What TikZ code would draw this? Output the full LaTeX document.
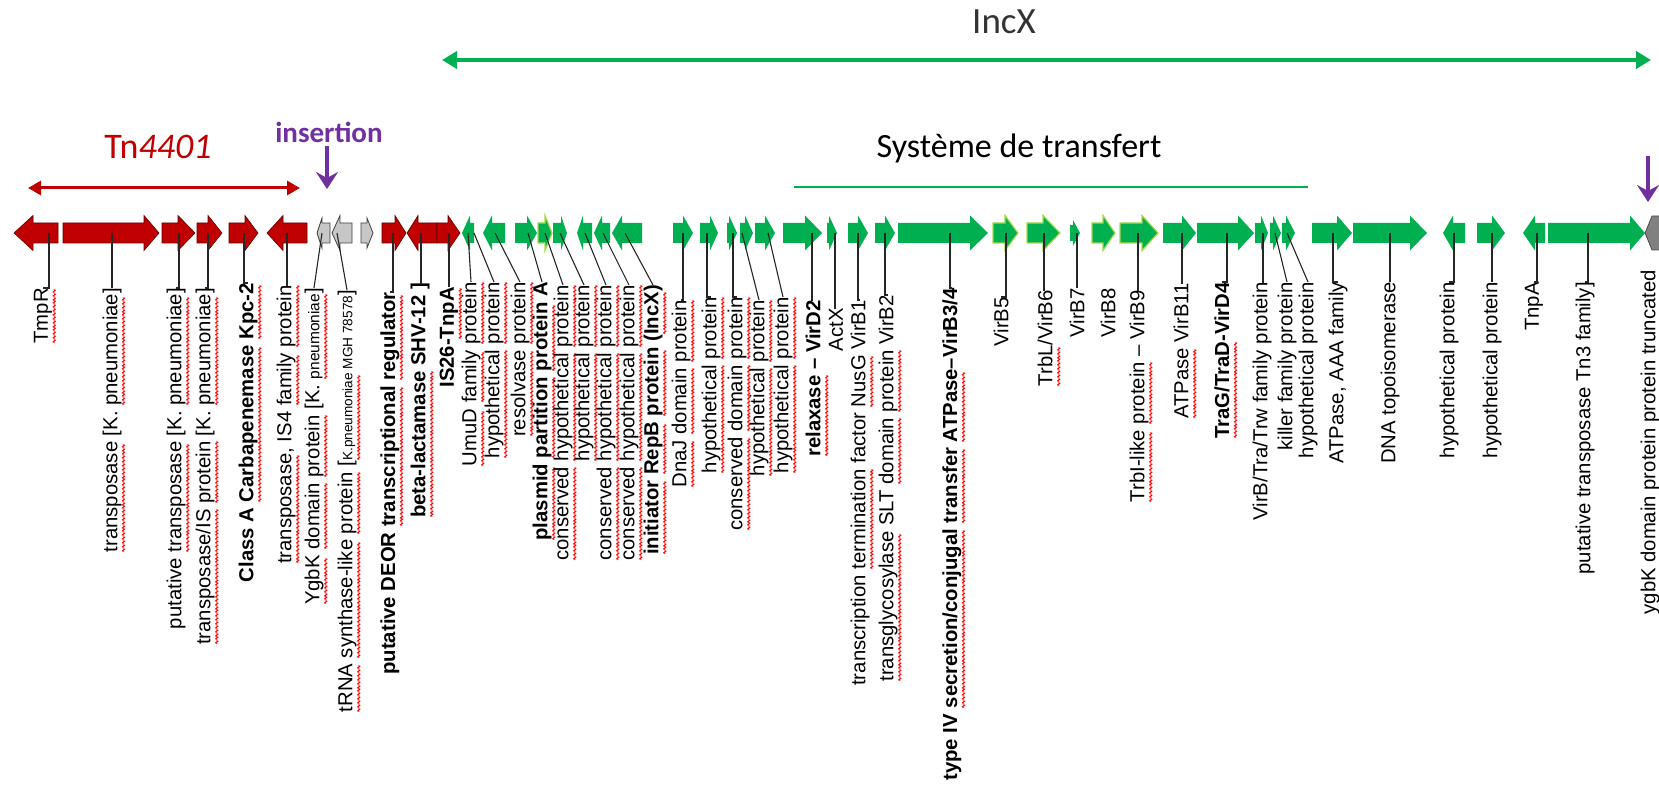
\documentclass[tikz,border=0pt]{standalone}
\usepackage{fontspec}
\usepackage{graphicx}
\setmainfont{Liberation Sans}
\newfontfamily\carl{Carlito}
\usetikzlibrary{arrows.meta}
\definecolor{gred}{HTML}{C00000}
\definecolor{dred}{HTML}{600000}
\definecolor{ggreen}{HTML}{00B050}
\definecolor{lgreen}{HTML}{A6D84A}
\definecolor{ppurple}{HTML}{7030A0}
\newsavebox\sqbox
\newcommand\wavepiece{\hbox{\scalebox{0.3}[1.3]{\fontsize{22}{22}\selectfont\mdseries\textasciitilde}}}
\newcommand\sq[1]{\sbox\sqbox{#1}\rlap{\usebox\sqbox}\rlap{\raisebox{-16pt}[0pt][0pt]{\textcolor{red}{\leaders\wavepiece\hskip\wd\sqbox\relax}}}\kern\wd\sqbox\relax}
\newcommand\lf{\fontsize{20.3}{22}\selectfont}
\newcommand\smf{\fontsize{15.5}{16}\selectfont}
\newcommand\tnf{\fontsize{13.6}{14}\selectfont}
\newcommand\gene[6]{\path[#1] (#2,{233-#5}) -- (#3,{233-#5}) -- (#3,{233-#6}) -- (#4,233) -- (#3,{233+#6}) -- (#3,{233+#5}) -- (#2,{233+#5}) -- cycle;}
\newcommand\gn[4]{\gene{#1}{#2}{#3}{#4}{10}{17.5}}
% label: #1 name, #2 gene x, #3 label x, #4 label top y, #5 path op, #6 text
\newcommand\lab[6]{\coordinate (g#1) at (#2,233);
  \node[lbl] (l#1) at (#3,#4) {#6};
  \draw[lead] (g#1) #5 (l#1.east);}
\tikzset{
  red/.style={fill=gred, draw=dred, line width=0.6pt},
  green/.style={fill=ggreen},
  greenY/.style={fill=ggreen, draw=lgreen, line width=1.2pt},
  gray/.style={fill=black!22, draw=black!75, line width=0.8pt},
  dgray/.style={fill=black!50, draw=black!70, line width=0.8pt},
  lbl/.style={rotate=90, anchor=east, inner sep=0pt, font=\lf},
  lead/.style={line width=1.1pt, draw=black!85},
}
\begin{document}
\begin{tikzpicture}[x=1pt, y=-1pt]
\useasboundingbox (0,0) rectangle (1659,786);
% ---------- headings ----------
\node[font=\carl\fontsize{37}{40}\selectfont, text=black!80] (incx) at (1004,22) {IncX};
\coordinate (ix1) at (442,60);
\coordinate (ix2) at (1651,60);
\draw[ggreen, line width=4pt, {Triangle[length=15pt,width=17pt]}-{Triangle[length=15pt,width=17pt]}] (ix1) -- (ix2);
\node[font=\carl\fontsize{36}{38}\selectfont, text=gred] (tn) at (158,147) {Tn\textit{4401}};
\coordinate (tn1) at (28,188);
\coordinate (tn2) at (300,188);
\draw[gred, line width=3pt, {Triangle[length=13pt,width=14pt]}-{Triangle[length=13pt,width=14pt]}] (tn1) -- (tn2);
\node[font=\carl\bfseries\fontsize{29}{31}\selectfont, text=ppurple] (ins) at (329,132) {insertion};
\coordinate (ia1) at (327,146);
\coordinate (ia2) at (327,189);
\draw[ppurple, line width=4pt, -{Stealth[length=17pt,width=22pt,inset=6pt]}] (ia1) -- (ia2);
\coordinate (ib1) at (1648,156);
\coordinate (ib2) at (1648,202);
\draw[ppurple, line width=4pt, -{Stealth[length=17pt,width=22pt,inset=6pt]}] (ib1) -- (ib2);
\node[font=\carl\fontsize{34}{36}\selectfont] (sys) at (1019,148) {Système de transfert};
\coordinate (st1) at (794,187);
\coordinate (st2) at (1308,187);
\draw[ggreen, line width=1.5pt] (st1) -- (st2);
% ---------- genes ----------
\gn{red}{58}{33}{14}
\gn{red}{63}{144}{159}
\gn{red}{162}{178}{195}
\gn{red}{197}{208}{222}
\gn{red}{229}{245}{258}
\gn{red}{307}{283}{267}
\gene{gray}{330}{322}{317}{10}{15}
\gn{gray}{352}{340}{332}
\gene{gray}{361}{367}{373}{10}{15}
\gn{red}{382}{395}{406}
\gn{red}{437}{418}{407}
\gn{red}{437}{448}{460}
\gn{green}{474}{470}{462}
\gn{green}{505}{492}{483}
\gn{green}{515}{527}{537}
\gn{greenY}{538}{545}{552}
\gn{green}{553}{561}{567}
\gn{green}{592}{583}{577}
\gn{green}{610}{602}{594}
\gn{green}{642}{622}{612}
\gn{green}{673}{683}{693}
\gn{green}{700}{710}{718}
\gn{green}{727}{729}{737}
\gn{green}{740}{745}{753}
\gn{green}{755}{765}{775}
\gn{green}{783}{805}{822}
\gn{green}{827}{829}{837}
\gn{green}{848}{858}{868}
\gn{green}{875}{885}{895}
\gn{green}{898}{970}{988}
\gn{greenY}{993}{1005}{1018}
\gn{greenY}{1027}{1043}{1060}
\gene{green}{1070}{1073}{1080}{8}{13}
\gn{greenY}{1092}{1103}{1115}
\gn{greenY}{1120}{1142}{1158}
\gn{green}{1163}{1182}{1196}
\gn{green}{1197}{1238}{1254}
\gn{green}{1255}{1261}{1268}
\gn{green}{1270}{1273}{1281}
\gn{green}{1282}{1286}{1295}
\gn{green}{1312}{1337}{1352}
\gn{green}{1353}{1410}{1427}
\gn{green}{1465}{1453}{1443}
\gn{green}{1477}{1492}{1505}
\gn{green}{1545}{1535}{1523}
\gn{green}{1548}{1630}{1645}
\path[dgray] (1645,233) -- (1652,216) -- (1670,216) -- (1677,233) -- (1670,250) -- (1652,250) -- cycle;
% ---------- labels ----------
\lab{1}{49}{43}{288}{|-}{\sq{TmpR}}
\lab{2}{112}{112}{288}{|-}{\sq{transposase} [K. \sq{pneumoniae}]}
\lab{3}{179}{176}{288}{|-}{putative \sq{transposase} [K. \sq{pneumoniae}]}
\lab{4}{208}{205}{288}{|-}{\sq{transposase/IS} \sq{protein} [K. \sq{pneumoniae}]}
\lab{5}{244}{248}{283}{|-}{\textbf{Class A \sq{Carbapenemase} \sq{Kpc-2}}}
\lab{6}{287}{286}{285}{|-}{\sq{transposase}, IS4 \sq{family} \sq{protein}}
\lab{7}{322}{314}{288}{--}{\sq{YgbK} \sq{domain} \sq{protein} [K. {\smf\sq{pneumoniae}}]}
\lab{8}{337}{347}{290}{--}{\sq{tRNA} \sq{synthase-like} \sq{protein} [{\tnf\sq{K.pneumoniae} MGH 78578}]}
\lab{9}{393}{390}{292}{|-}{\textbf{putative DEOR \sq{transcriptional} \sq{regulator}}}
\lab{10}{421}{420}{283}{|-}{\textbf{\sq{beta-lactamase} SHV-12 ]}}
\lab{11}{449}{449}{287}{|-}{\textbf{IS26-\sq{TnpA}}}
\lab{12}{468}{471}{282}{--}{\sq{UmuD} \sq{family} \sq{protein}}
\lab{13}{474}{494}{282}{--}{\sq{hypothetical} \sq{protein}}
\lab{14}{495}{520}{282}{--}{\sq{resolvase} \sq{protein}}
\lab{15}{528}{542}{282}{--}{\textbf{\sq{plasmid} \sq{partition} \sq{protein} A}}
\lab{16}{545}{563}{285}{--}{\sq{conserved} \sq{hypothetical} \sq{protein}}
\lab{17}{560}{584}{285}{--}{\sq{hypothetical} \sq{protein}}
\lab{18}{585}{606}{285}{--}{\sq{conserved} \sq{hypothetical} \sq{protein}}
\lab{19}{603}{629}{285}{--}{\sq{conserved} \sq{hypothetical} \sq{protein}}
\lab{20}{625}{653}{285}{--}{\textbf{\sq{initiator} \sq{RepB} \sq{protein} (\sq{IncX})}}
\lab{21}{683}{681}{300}{|-}{\sq{DnaJ} \sq{domain} \sq{protein}}
\lab{22}{707}{711}{297}{|-}{\sq{hypothetical} \sq{protein}}
\lab{23}{733}{737}{297}{|-}{\sq{conserved} \sq{domain} \sq{protein}}
\lab{24}{742}{759}{300}{--}{\sq{hypothetical} \sq{protein}}
\lab{25}{768}{783}{297}{--}{\sq{hypothetical} \sq{protein}}
\lab{26}{812}{813}{300}{|-}{\textbf{\sq{relaxase} – VirD2}}
\lab{27}{835}{836}{308}{|-}{ActX}
\lab{28}{858}{860}{300}{|-}{transcription \sq{termination} factor \sq{NusG} VirB1}
\lab{29}{885}{888}{295}{|-}{\sq{transglycosylase} SLT \sq{domain} \sq{protein} VirB2}
\lab{30}{950}{952}{288}{|-}{\textbf{type IV \sq{secretion/conjugal} \sq{transfer} \sq{ATPase}–VirB3/4}}
\lab{31}{1006}{1001}{297}{|-}{VirB5}
\lab{32}{1044}{1045}{290}{|-}{\sq{TrbL}/VirB6}
\lab{33}{1077}{1077}{288}{|-}{VirB7}
\node[lbl] (l34) at (1108,288) {VirB8};
\lab{35}{1138}{1139}{290}{|-}{\sq{TrbI-like} \sq{protein} – VirB9}
\lab{36}{1182}{1181}{283}{|-}{\sq{ATPase} VirB11}
\lab{37}{1227}{1222}{282}{|-}{\textbf{\sq{TraG/TraD}-VirD4}}
\lab{38}{1263}{1262}{282}{|-}{VirB/Tra/Trw family protein}
\lab{39}{1275}{1287}{282}{--}{killer family protein}
\lab{40}{1287}{1308}{282}{--}{hypothetical protein}
\lab{41}{1333}{1338}{282}{|-}{ATPase, AAA family}
\lab{42}{1390}{1390}{282}{|-}{DNA topoisomerase}
\lab{43}{1454}{1449}{282}{|-}{hypothetical protein}
\lab{44}{1492}{1492}{282}{|-}{hypothetical protein}
\lab{45}{1537}{1534}{282}{|-}{TnpA}
\lab{46}{1588}{1585}{282}{|-}{putative transposase Tn3 family]}
\node[lbl] (l47) at (1650,270) {ygbK domain protein protein truncated};
\end{tikzpicture}
\end{document}
